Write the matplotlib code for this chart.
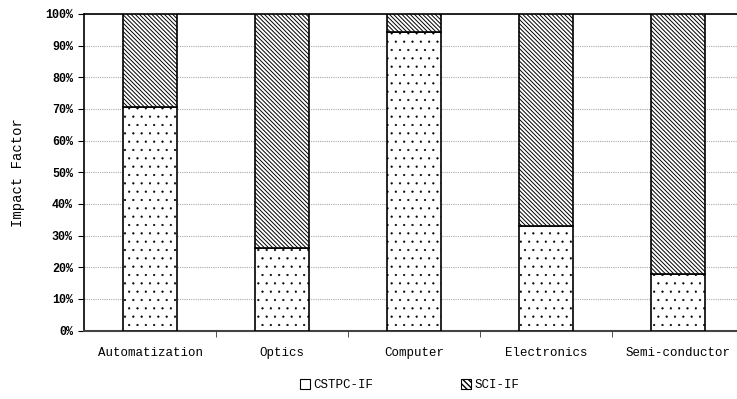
import numpy as np
import matplotlib.pyplot as plt
from matplotlib.patches import Patch

plt.rcParams['font.family'] = ['Liberation Mono', 'DejaVu Sans Mono']

# share of each impact factor per field (percent)
fields = ['Automatization', 'Optics', 'Computer', 'Electronics', 'Semi-conductor']
cstpc_if = [70.7, 26.2, 94.2, 33.1, 17.9]
sci_if = [29.3, 73.8, 5.8, 66.9, 82.1]

fig = plt.figure(figsize=(7.37, 3.99), dpi=100)
# the plot runs past the right edge of the figure
ax = fig.add_axes([84 / 737, 1 - 330.5 / 399, 660 / 737, 316.5 / 399])

x = np.arange(len(fields))
ancho = 0.41

# fine dots for the lower part, dense diagonals for the upper part
with plt.rc_context({'hatch.linewidth': 0.35}):
    ax.bar(x, cstpc_if, ancho, color='white', edgecolor='black', hatch='..',
           linewidth=1.2, zorder=3)
with plt.rc_context({'hatch.linewidth': 0.7}):
    ax.bar(x, sci_if, ancho, bottom=cstpc_if, color='white', edgecolor='black',
           hatch='\\' * 8, linewidth=1.2, zorder=3)
    handles = [Patch(facecolor='white', edgecolor='black', linewidth=0.8, label='CSTPC-IF'),
               Patch(facecolor='white', edgecolor='black', linewidth=0.8,
                     hatch='\\' * 6, label='SCI-IF')]

ax.set_xlim(-0.5, len(fields) - 0.5)
ax.set_ylim(0, 100)
ax.set_yticks(np.arange(0, 101, 10))
ax.set_yticklabels([f'{v}%' for v in range(0, 101, 10)], fontsize=8.5, fontweight='bold')
ax.set_xticks(x)
ax.set_xticklabels(fields, fontsize=9)
ax.set_xticks(np.arange(0.5, len(fields) - 0.5, 1), minor=True)

ax.tick_params(axis='x', which='major', length=0, pad=12)
ax.tick_params(axis='x', which='minor', length=4, direction='out', color='#333333')
ax.tick_params(axis='y', length=4, direction='out', pad=4)

ax.yaxis.grid(True, linestyle=(0, (1, 1)), color='#aaaaaa', linewidth=0.8, zorder=0)
ax.set_axisbelow(True)

ax.spines['right'].set_visible(False)
ax.spines['top'].set_linewidth(1.2)
ax.spines['left'].set_linewidth(1.2)
ax.spines['bottom'].set_linewidth(1.5)
ax.spines['bottom'].set_color('#444444')

ax.set_ylabel('Impact Factor', fontsize=10, labelpad=14)

fig.legend(handles=handles, loc='center', bbox_to_anchor=(410 / 737, 1 - 385 / 399),
           ncol=2, frameon=False, fontsize=9, handlelength=0.8, handleheight=0.8,
           columnspacing=7, handletextpad=0.3)

fig.savefig('out.png', dpi=100)
